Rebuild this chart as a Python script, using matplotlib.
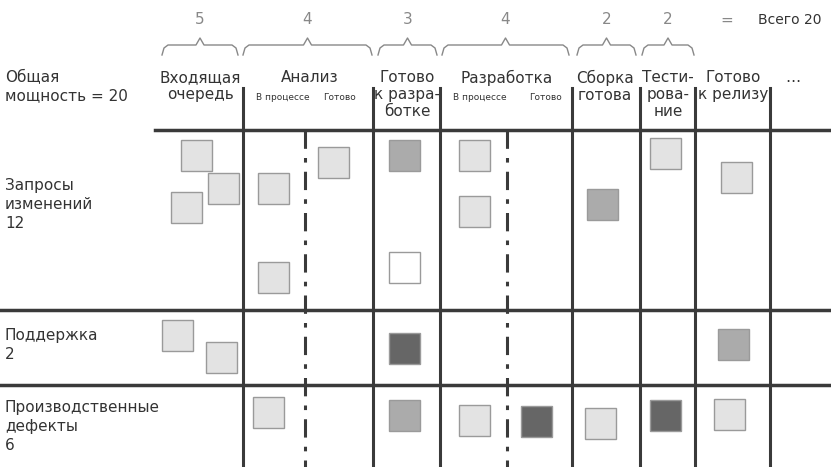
import matplotlib.pyplot as plt
from matplotlib.patches import Rectangle

# column separators and limits (board pixel space)
col_lines = [243, 373, 440, 572, 640, 695, 770]
dash_lines = [305, 507]
row_lines = [130, 310, 385]

wip_limits = ["5", "4", "3", "4", "2", "2"]
wip_spans = [(162, 238), (243, 372), (378, 437), (442, 569), (577, 636), (642, 694)]

headers = ["Входящая\nочередь", "Анализ", "Готово\nк разра-\nботке", "Разработка",
           "Сборка\nготова", "Тести-\nрова-\nние", "Готово\nк релизу", "…"]
header_x = [200, 310, 407, 507, 605, 668, 733, 793]

rows = ["Запросы\nизменений\n12", "Поддержка\n2", "Производственные\nдефекты\n6"]
row_y = [178, 328, 400]

# cards: x, y centre, shade
card_x = [196, 223, 186, 273, 273, 333, 404, 404, 474, 474, 602, 665, 736,
          177, 221, 404, 733,
          268, 404, 474, 536, 600, 665, 729]
card_y = [155, 188, 207, 188, 277, 162, 155, 267, 155, 211, 204, 153, 177,
          335, 357, 348, 344,
          412, 415, 420, 421, 423, 415, 414]
card_shade = ["l", "l", "l", "l", "l", "l", "m", "w", "l", "l", "m", "l", "l",
              "l", "l", "d", "m",
              "l", "m", "l", "d", "l", "d", "l"]
shades = {"l": "#e3e3e3", "m": "#ababab", "d": "#666666", "w": "#ffffff"}

fig = plt.figure(figsize=(8.31, 4.67), dpi=100)
ax = fig.add_axes([0, 0, 1, 1])
ax.set_xlim(0, 831)
ax.set_ylim(467, 0)
ax.axis("off")

lc = "#3a3a3a"
for x in col_lines:
    ax.plot([x, x], [88, 467], color=lc, lw=2.2)
for x in dash_lines:
    ax.plot([x, x], [130, 467], color=lc, lw=2.2, ls=(0, (6, 3, 1.5, 3)))
ax.plot([155, 831], [row_lines[0]] * 2, color=lc, lw=2.5)
for y in row_lines[1:]:
    ax.plot([0, 831], [y, y], color=lc, lw=2.5)

tc = "#333333"
for x, h in zip(header_x, headers):
    ax.text(x, 70, h, ha="center", va="top", fontsize=11, color=tc, linespacing=1.15)
for x, s in [(283, "В процессе"), (340, "Готово"), (480, "В процессе"), (545, "Готово")]:
    ax.text(x, 98, s, ha="center", va="center", fontsize=6.5, color=tc)

ax.text(5, 70, "Общая\nмощность = 20", ha="left", va="top", fontsize=11, color=tc, linespacing=1.3)
for y, r in zip(row_y, rows):
    ax.text(5, y, r, ha="left", va="top", fontsize=11, color=tc, linespacing=1.35)

gc = "#888888"
for (x0, x1), n in zip(wip_spans, wip_limits):
    m = (x0 + x1) / 2
    ax.plot([x0, x0 + 2, x0 + 6, m - 4, m, m + 4, x1 - 6, x1 - 2, x1],
            [55, 48, 45, 45, 38, 45, 45, 48, 55], color=gc, lw=1)
    ax.text(m, 20, n, ha="center", va="center", fontsize=11, color=gc)
ax.text(727, 20, "=", ha="center", va="center", fontsize=11, color=gc)
ax.text(790, 20, "Всего 20", ha="center", va="center", fontsize=10, color=tc)

s = 31
for x, y, c in zip(card_x, card_y, card_shade):
    ax.add_patch(Rectangle((x - s / 2, y - s / 2), s, s, facecolor=shades[c],
                           edgecolor="#9a9a9a", lw=1))

fig.savefig("out.png", dpi=100)
